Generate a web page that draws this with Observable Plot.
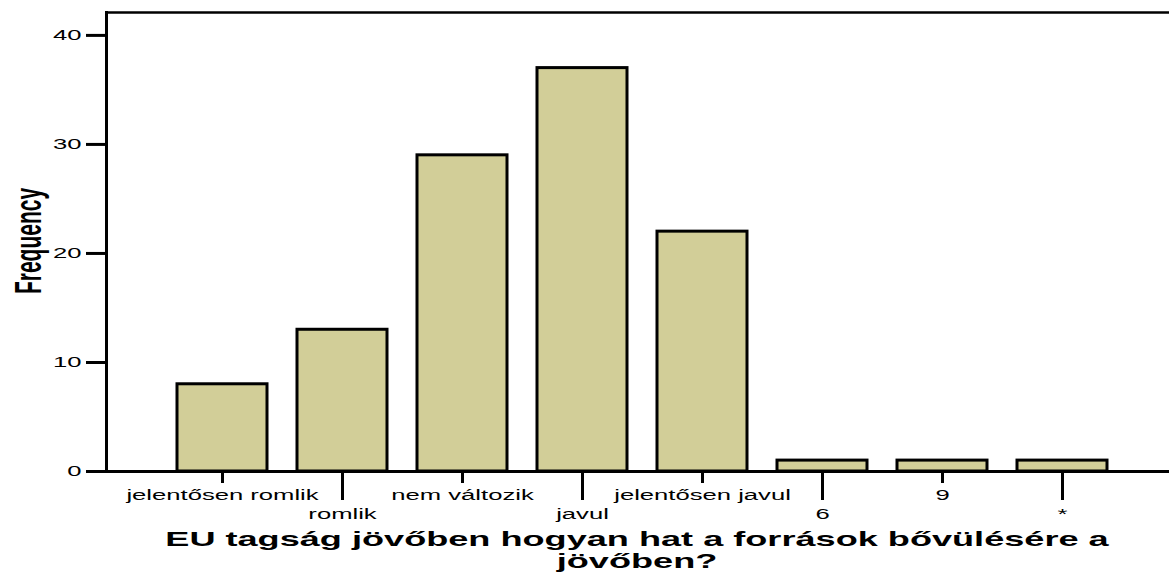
<!DOCTYPE html>
<html><head><meta charset="utf-8">
<script src="https://cdn.jsdelivr.net/npm/d3@7"></script>
<script src="https://cdn.jsdelivr.net/npm/@observablehq/plot@0.6"></script>
<style>
body{margin:0;background:#fff;font-family:"Liberation Sans",Arial,sans-serif;}
#chart{position:relative;width:1169px;height:572px;overflow:hidden;}
#title{position:absolute;left:357px;top:528px;width:560px;text-align:center;font-weight:bold;font-size:21px;line-height:22px;color:#000;transform:scaleX(1.72);transform-origin:50% 0;}
#ylabel{position:absolute;left:27px;top:241px;font-weight:bold;font-size:21px;line-height:1;white-space:nowrap;color:#000;transform:translate(-50%,-50%) rotate(-90deg) scaleY(1.8);}
</style></head><body><div id="chart"></div>
<script>
const categories = ["jelentősen romlik","romlik","nem változik","javul","jelentősen javul","6","9","*"];
const frequencies = [8,13,29,37,22,1,1,1];
const yTicks = [0,10,20,30,40];
const xLabel = "EU tagság jövőben hogyan hat a források bővülésére a jövőben?";
const yLabel = "Frequency";

const data = categories.map((c,i)=>({category:c, frequency:frequencies[i]}));
const upperCats = categories.filter((c,i)=>i%2===0);
const lowerCats = categories.filter((c,i)=>i%2===1);

const chart = Plot.plot({
  width:1169, height:525,
  marginLeft:106, marginRight:0, marginTop:12, marginBottom:54,
  style:{fontFamily:"Liberation Sans, Arial, sans-serif", color:"black", background:"white"},
  x:{type:"band", domain:categories, range:[160,1123], paddingInner:0.25, paddingOuter:0.125},
  y:{domain:[0,42.1]},
  marks:[
    Plot.barY(data,{x:"category", y:"frequency", fill:"#d2ce98", stroke:"black", strokeWidth:3}),
    Plot.frame({anchor:"left", stroke:"black", strokeWidth:3}),
    Plot.frame({anchor:"top", stroke:"black", strokeWidth:2.5}),
    Plot.ruleY([0],{stroke:"black", strokeWidth:3}),
    Plot.axisY({ticks:yTicks, tickSize:20, tickPadding:5, fontSize:14, strokeWidth:3, label:null}),
    Plot.axisX({ticks:upperCats, tickSize:12, tickPadding:7, fontSize:14, strokeWidth:3, label:null}),
    Plot.axisX({ticks:lowerCats, tickSize:29, tickPadding:9, fontSize:14, strokeWidth:3, label:null})
  ]
});
const host = document.getElementById("chart");
host.append(chart);
const title = document.createElement("div");
title.id = "title";
title.textContent = xLabel;
host.append(title);
const ylab = document.createElement("div");
ylab.id = "ylabel";
ylab.textContent = yLabel;
host.append(ylab);

chart.querySelectorAll("text").forEach(t=>{
  const g = t.closest("g");
  const lab = g ? (g.getAttribute("aria-label")||"") : "";
  if (lab.includes("axis")) {
    const w = t.getComputedTextLength();
    t.setAttribute("textLength", w*1.83);
    t.setAttribute("lengthAdjust","spacingAndGlyphs");
  }
});
</script></body></html>
